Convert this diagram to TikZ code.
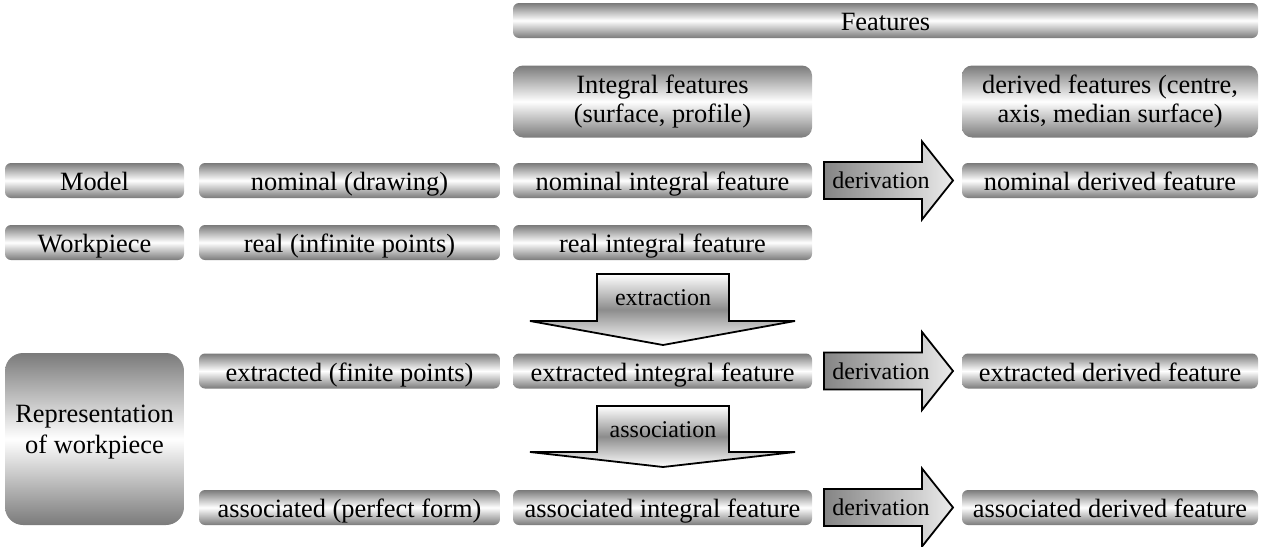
\documentclass[tikz,border=0pt]{standalone}
\usepackage{fontspec}
\setmainfont{Liberation Serif}
\begin{document}
\begin{tikzpicture}[x=0.5pt,y=-0.5pt,
  bar/.style={rectangle,rounded corners=3pt,inner sep=0pt,
    top color=black!52,bottom color=black!52,middle color=white,
    font=\fontsize{13.2}{14.8}\selectfont,align=center},
  arrowbody/.style={draw=black,line width=0.9pt,line join=miter},
  harrow/.style={arrowbody,left color=black!48,right color=black!8},
  varrow/.style={arrowbody,top color=white,bottom color=white,middle color=black!45},
  alabel/.style={inner sep=0pt,font=\fontsize{12}{14}\selectfont,text height=8.5pt,text depth=2.5pt},
  plain/.style={inner sep=0pt,font=\fontsize{13.2}{15.5}\selectfont,align=center}]
\useasboundingbox (0,0) rectangle (1261,546);
% header
\node[bar,minimum width=372.5pt,minimum height=17.5pt,text height=10.5pt,text depth=1pt] (feat) at (885.5,20.5) {Features};
\node[bar,rounded corners=5pt,minimum width=149.5pt,minimum height=36pt] (integ) at (662.5,101.5) {Integral features\\(surface, profile)};
\node[bar,rounded corners=5pt,minimum width=148pt,minimum height=36pt] (deriv) at (1110,101.5) {derived features (centre,\\axis, median surface)};
% rows
\tikzset{row/.style={bar,minimum height=17.5pt,text height=11pt,text depth=1pt},
         colA/.style={row,minimum width=89.5pt},
         colB/.style={row,minimum width=150.5pt},
         colC/.style={row,minimum width=149.5pt},
         colD/.style={row,minimum width=148pt}}
\node[colA] (model) at (94.5,180.5) {Model};
\node[colB] (nom) at (349.5,180.5) {nominal (drawing)};
\node[colC] (nomint) at (662.5,180.5) {nominal integral feature};
\node[colD] (nomder) at (1110,180.5) {nominal derived feature};
\node[colA] (work) at (94.5,242.5) {Workpiece};
\node[colB] (real) at (349.5,242.5) {real (infinite points)};
\node[colC] (realint) at (662.5,242.5) {real integral feature};
\node[colB] (extr) at (349.5,371) {extracted (finite points)};
\node[colC] (extrint) at (662.5,371) {extracted integral feature};
\node[colD] (extrder) at (1110,371) {extracted derived feature};
\node[colB] (assoc) at (349.5,507.5) {associated (perfect form)};
\node[colC] (assocint) at (662.5,507.5) {associated integral feature};
\node[colD] (assocder) at (1110,507.5) {associated derived feature};
\node[bar,rounded corners=9pt,minimum width=89.5pt,minimum height=86pt] (rep) at (94.5,439) {};
\node[plain] (replabel) at (94.5,432) {Representation\\of workpiece};
% derivation arrows
\foreach \r/\n in {180.5/d1,371/d2,507.5/d3}{
  \draw[harrow] (824,\r-18.5) -- (922,\r-18.5) -- (922,\r-39) -- (953,\r) -- (922,\r+39) -- (922,\r+18.5) -- (824,\r+18.5) -- cycle;
  \node[alabel] (\n) at (881,\r+2) {derivation};
}
% extraction / association arrows
\foreach \t/\b/\tip/\n/\txt/\ty in {274/321/345/ex/extraction/299,406/452/467/as/association/431}{
  \draw[varrow] (597,\t) -- (729,\t) -- (729,\b) -- (795,\b) -- (663,\tip) -- (530,\b) -- (597,\b) -- cycle;
  \node[alabel] (\n) at (663,\ty) {\txt};
}
\end{tikzpicture}
\end{document}
